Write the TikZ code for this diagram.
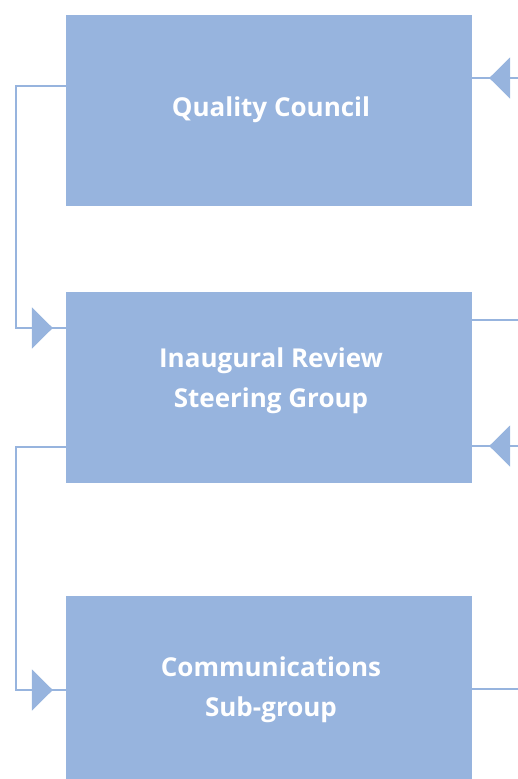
\documentclass[tikz,border=0pt]{standalone}
\usepackage{fontspec}
\setmainfont{Open Sans}
\usetikzlibrary{arrows.meta,decorations.markings}
\definecolor{boxblue}{HTML}{97B4DE}
\definecolor{lineblue}{HTML}{97B4DE}
\tikzset{
  box/.style={fill=boxblue, draw=none, minimum width=406pt, minimum height=191pt, inner sep=0pt},
  label/.style={text=white, font=\fontsize{26}{40}\selectfont\bfseries, align=center, inner sep=0pt},
  conn/.style={draw=lineblue, line width=2pt},
  tipat/.style={postaction={decorate}, decoration={markings, mark=at position -#1 with {\arrow{Triangle[length=21pt,width=41pt]}}}},
}
\begin{document}
\begin{tikzpicture}[x=1pt,y=-1pt]
\useasboundingbox (0,0) rectangle (518,779);
\clip (0,0) rectangle (518,779);
\node[box] (qc) at (269,110.5) {};
\node[label] (qct) at (271,110) {Quality Council};
\node[box] (irsg) at (269,387.5) {};
\node[label] (irsgt) at (271,381) {Inaugural Review\\Steering Group};
\node[box] (cs) at (269,691.5) {};
\node[label] (cst) at (271,690) {Communications\\Sub-group};
% left connectors
\coordinate (l1) at (16,86);
\coordinate (l2) at (16,328);
\coordinate (l3) at (16,447);
\coordinate (l4) at (16,690);
\draw[conn, tipat=13pt] (qc.west |- l1) -- (l1) -- (l2) -- (irsg.west |- l2);
\draw[conn, tipat=13pt] (irsg.west |- l3) -- (l3) -- (l4) -- (cs.west |- l4);
% right connectors
\coordinate (r1) at (518,78);
\coordinate (r2) at (518,320);
\coordinate (r3) at (518,446);
\coordinate (r4) at (518,689);
\draw[conn, tipat=17pt] (r1) -- (qc.east |- r1);
\draw[conn] (irsg.east |- r2) -- (r2);
\draw[conn, tipat=17pt] (r3) -- (irsg.east |- r3);
\draw[conn] (cs.east |- r4) -- (r4);
\end{tikzpicture}
\end{document}
